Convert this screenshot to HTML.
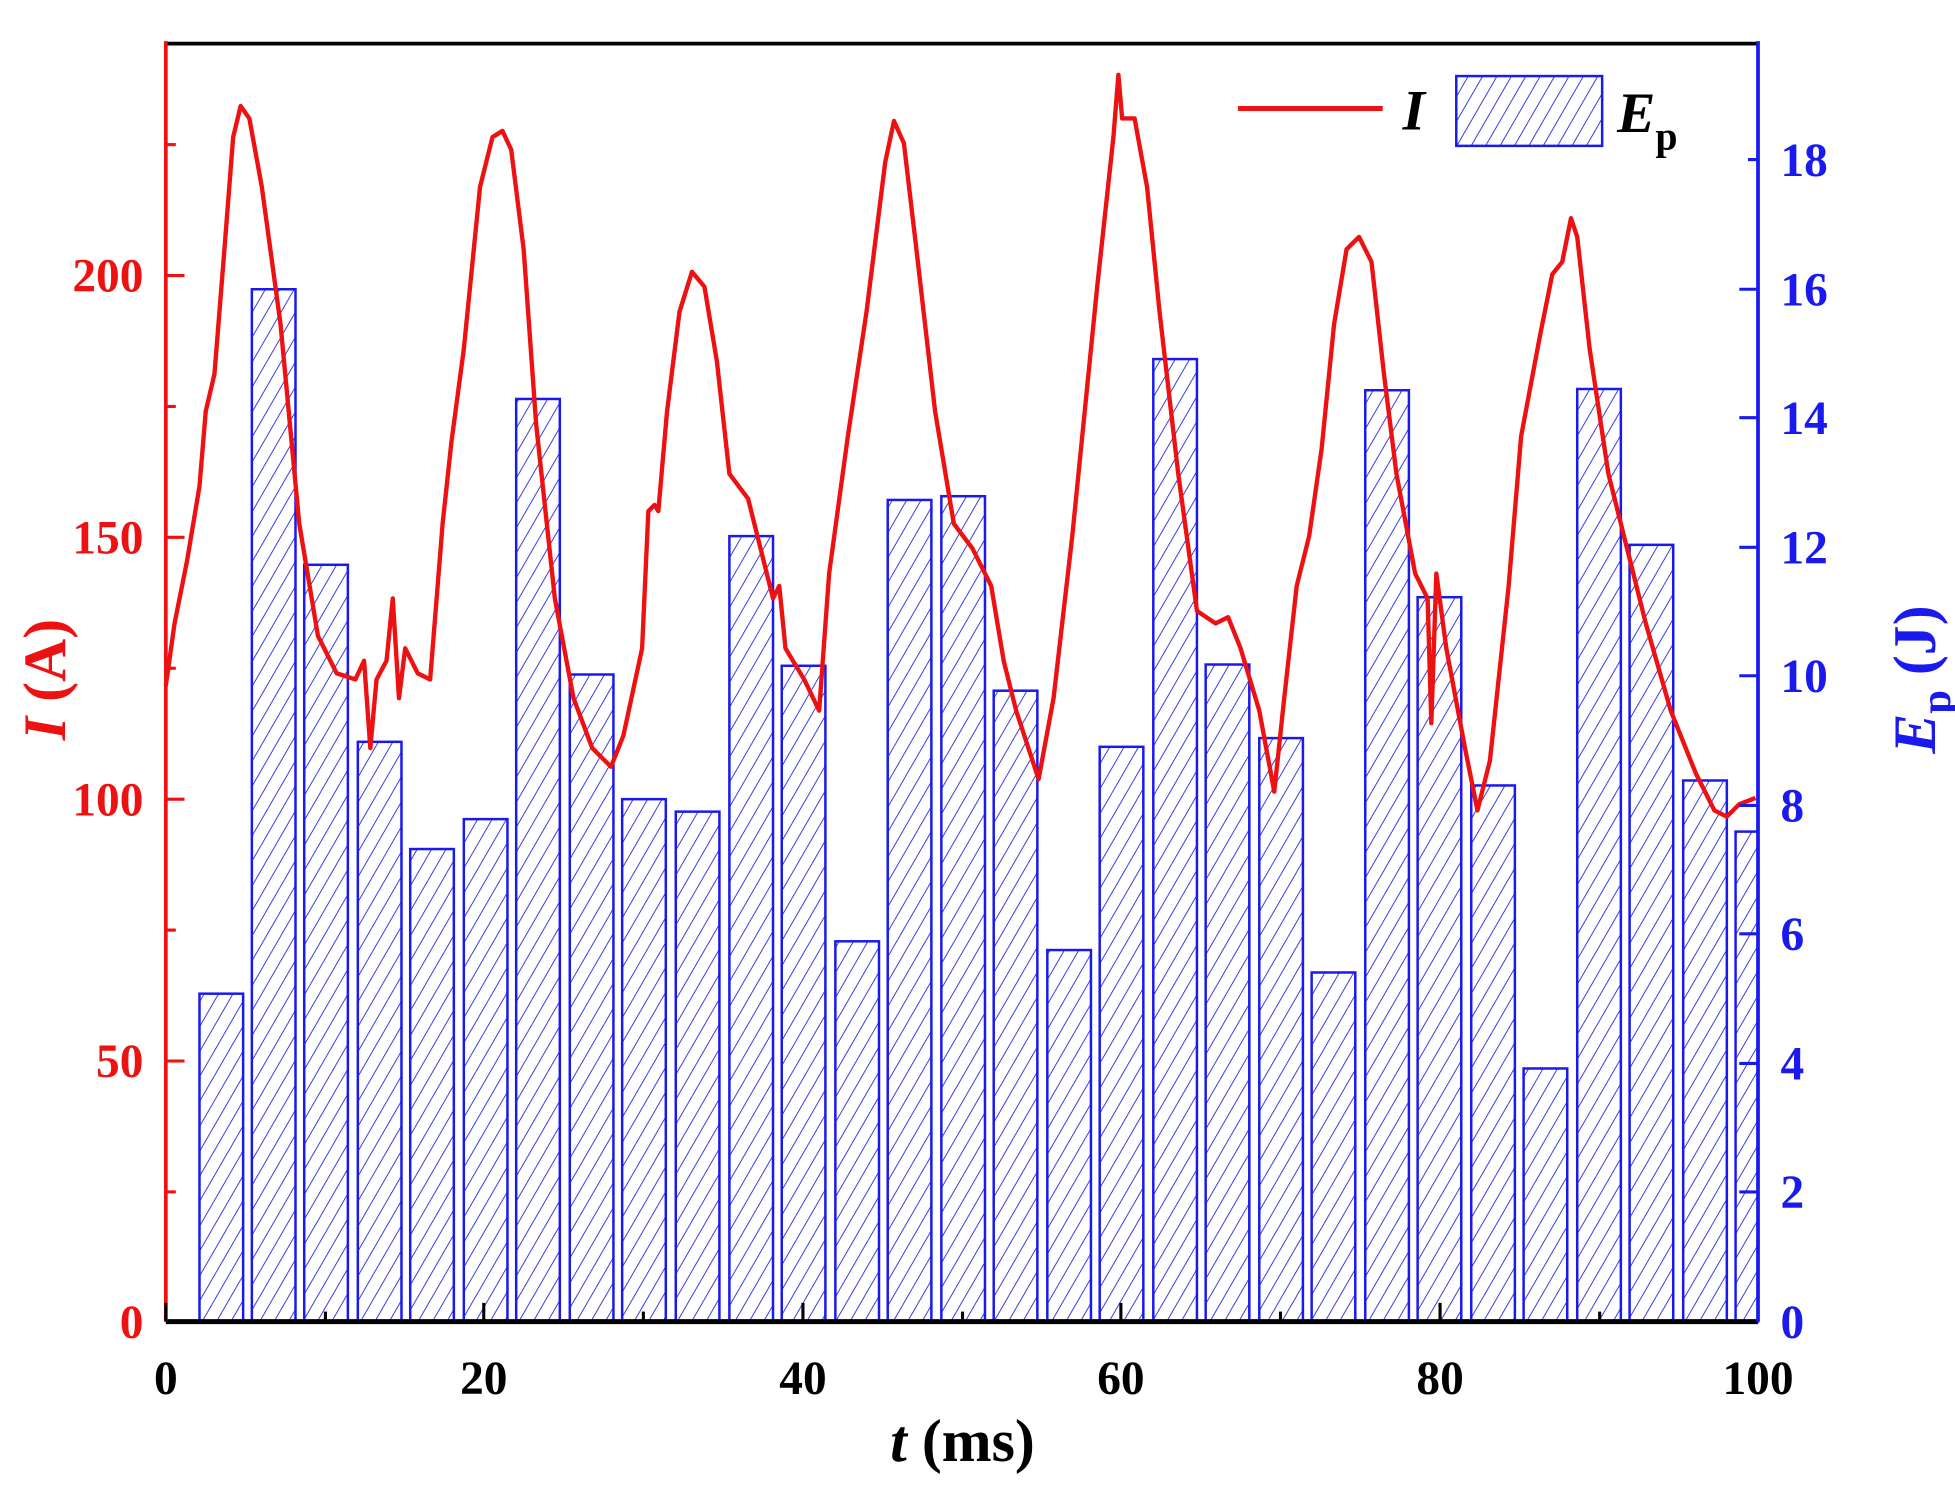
<!DOCTYPE html>
<html><head><meta charset="utf-8"><style>html,body{margin:0;padding:0;background:#fff}svg{display:block}</style></head>
<body>
<svg width="1955" height="1493" viewBox="0 0 1568 1197.5" preserveAspectRatio="none" xmlns="http://www.w3.org/2000/svg" font-family="Liberation Serif, serif" font-weight="bold">
<defs>
<pattern id="h" patternUnits="userSpaceOnUse" width="10" height="10" patternTransform="rotate(30)">
<line x1="0" y1="0" x2="0" y2="10" stroke="#2020e0" stroke-width="1.4"/>
</pattern>
</defs>
<g stroke="#1a1aee" stroke-width="2" fill="url(#h)">
<rect x="160" y="797" width="35" height="263"/>
<rect x="202" y="232" width="35" height="828"/>
<rect x="244" y="453" width="35" height="607"/>
<rect x="287" y="595" width="35" height="465"/>
<rect x="329" y="681" width="35" height="379"/>
<rect x="372" y="657" width="35" height="403"/>
<rect x="414" y="320" width="35" height="740"/>
<rect x="457" y="541" width="35" height="519"/>
<rect x="499" y="641" width="35" height="419"/>
<rect x="542" y="651" width="35" height="409"/>
<rect x="585" y="430" width="35" height="630"/>
<rect x="627" y="534" width="35" height="526"/>
<rect x="670" y="755" width="35" height="305"/>
<rect x="712" y="401" width="35" height="659"/>
<rect x="755" y="398" width="35" height="662"/>
<rect x="797" y="554" width="35" height="506"/>
<rect x="840" y="762" width="35" height="298"/>
<rect x="882" y="599" width="35" height="461"/>
<rect x="925" y="288" width="35" height="772"/>
<rect x="967" y="533" width="35" height="527"/>
<rect x="1010" y="592" width="35" height="468"/>
<rect x="1052" y="780" width="35" height="280"/>
<rect x="1095" y="313" width="35" height="747"/>
<rect x="1137" y="479" width="35" height="581"/>
<rect x="1180" y="630" width="35" height="430"/>
<rect x="1222" y="857" width="35" height="203"/>
<rect x="1265" y="312" width="35" height="748"/>
<rect x="1307" y="437" width="35" height="623"/>
<rect x="1350" y="626" width="35" height="434"/>
<rect x="1392" y="667" width="18" height="393"/>
</g>
<polyline fill="none" stroke="#ee1111" stroke-width="3.5" stroke-linejoin="round" points="133,550 140,500 150,450 160,390 165,330 172,300 180,200 187,110 193,85 200,95 210,150 225,260 240,420 255,510 270,540 285,545 292,530 297,600 302,545 310,530 315,480 320,560 325,520 335,540 345,545 355,420 362,355 372,280 385,150 395,110 403,105 410,120 420,200 430,340 445,480 460,560 475,600 490,615 500,590 515,520 520,410 525,405 528,410 535,330 545,250 555,218 565,230 575,290 585,380 600,400 610,440 620,480 625,470 630,520 645,545 657,570 665,460 680,350 695,250 710,130 717,97 725,115 735,200 750,330 765,420 780,440 795,470 805,530 815,570 833,625 845,560 860,430 880,230 893,110 897,60 900,95 910,95 920,150 930,250 945,380 960,490 975,500 985,495 995,520 1010,570 1022,635 1030,560 1040,470 1050,430 1060,360 1070,260 1080,200 1090,190 1100,210 1110,300 1120,380 1135,460 1145,480 1148,580 1152,460 1160,520 1175,600 1185,650 1195,610 1210,470 1220,350 1235,270 1245,220 1253,210 1260,175 1265,190 1275,280 1290,380 1305,440 1320,500 1340,570 1360,620 1375,650 1385,655 1395,645 1408,640"/>
<line x1="133" y1="35" x2="1410" y2="35" stroke="#000" stroke-width="3"/>
<line x1="133" y1="1060" x2="1410" y2="1060" stroke="#000" stroke-width="4"/>
<line x1="133" y1="33" x2="133" y2="1060" stroke="#ee1111" stroke-width="3"/>
<line x1="1410" y1="33" x2="1410" y2="1060" stroke="#1a1aee" stroke-width="3"/>
<g stroke="#000" stroke-width="2.5">
<line x1="133" y1="1060" x2="133" y2="1045"/><line x1="388" y1="1060" x2="388" y2="1045"/><line x1="644" y1="1060" x2="644" y2="1045"/><line x1="899" y1="1060" x2="899" y2="1045"/><line x1="1155" y1="1060" x2="1155" y2="1045"/>
<line x1="261" y1="1060" x2="261" y2="1052"/><line x1="516" y1="1060" x2="516" y2="1052"/><line x1="772" y1="1060" x2="772" y2="1052"/><line x1="1027" y1="1060" x2="1027" y2="1052"/><line x1="1283" y1="1060" x2="1283" y2="1052"/>
</g>
<g stroke="#ee1111" stroke-width="2.5">
<line x1="133" y1="851" x2="148" y2="851"/><line x1="133" y1="641" x2="148" y2="641"/><line x1="133" y1="431" x2="148" y2="431"/><line x1="133" y1="221" x2="148" y2="221"/>
<line x1="133" y1="956" x2="141" y2="956"/><line x1="133" y1="746" x2="141" y2="746"/><line x1="133" y1="536" x2="141" y2="536"/><line x1="133" y1="326" x2="141" y2="326"/><line x1="133" y1="116" x2="141" y2="116"/>
</g>
<g stroke="#1a1aee" stroke-width="2.5">
<line x1="1395" y1="956" x2="1410" y2="956"/><line x1="1395" y1="853" x2="1410" y2="853"/><line x1="1395" y1="749" x2="1410" y2="749"/><line x1="1395" y1="646" x2="1410" y2="646"/><line x1="1395" y1="542" x2="1410" y2="542"/><line x1="1395" y1="439" x2="1410" y2="439"/><line x1="1395" y1="335" x2="1410" y2="335"/><line x1="1395" y1="232" x2="1410" y2="232"/><line x1="1402" y1="128" x2="1410" y2="128"/>
</g>
<g font-size="38" fill="#000" text-anchor="middle">
<text x="133" y="1118">0</text><text x="388" y="1118">20</text><text x="644" y="1118">40</text><text x="899" y="1118">60</text><text x="1155" y="1118">80</text><text x="1410" y="1118">100</text>
</g>
<g font-size="38" fill="#ee1111" text-anchor="end">
<text x="115" y="1073">0</text><text x="115" y="864">50</text><text x="115" y="654">100</text><text x="115" y="444">150</text><text x="115" y="234">200</text>
</g>
<g font-size="38" fill="#1a1aee" text-anchor="start">
<text x="1428" y="1073">0</text><text x="1428" y="969">2</text><text x="1428" y="866">4</text><text x="1428" y="762">6</text><text x="1428" y="659">8</text><text x="1428" y="555">10</text><text x="1428" y="452">12</text><text x="1428" y="348">14</text><text x="1428" y="245">16</text><text x="1428" y="141">18</text>
</g>
<text x="772" y="1172" font-size="48" text-anchor="middle" fill="#000"><tspan font-style="italic">t</tspan> (ms)</text>
<text transform="translate(52,545) rotate(-90)" font-size="48" text-anchor="middle" fill="#ee1111"><tspan font-style="italic">I</tspan> (A)</text>
<text transform="translate(1552,545) rotate(-90)" font-size="48" text-anchor="middle" fill="#1a1aee"><tspan font-style="italic">E</tspan><tspan font-size="34" dy="12">p</tspan><tspan dy="-12"> (J)</tspan></text>
<line x1="993" y1="87" x2="1109" y2="87" stroke="#ee1111" stroke-width="4"/>
<text x="1125" y="104" font-size="46" font-style="italic" fill="#000">I</text>
<rect x="1168" y="61" width="117" height="56" stroke="#1a1aee" stroke-width="2" fill="url(#h)"/>
<text x="1297" y="106" font-size="46" fill="#000"><tspan font-style="italic">E</tspan><tspan font-size="32" dy="14">p</tspan></text>
</svg>
</body></html>
